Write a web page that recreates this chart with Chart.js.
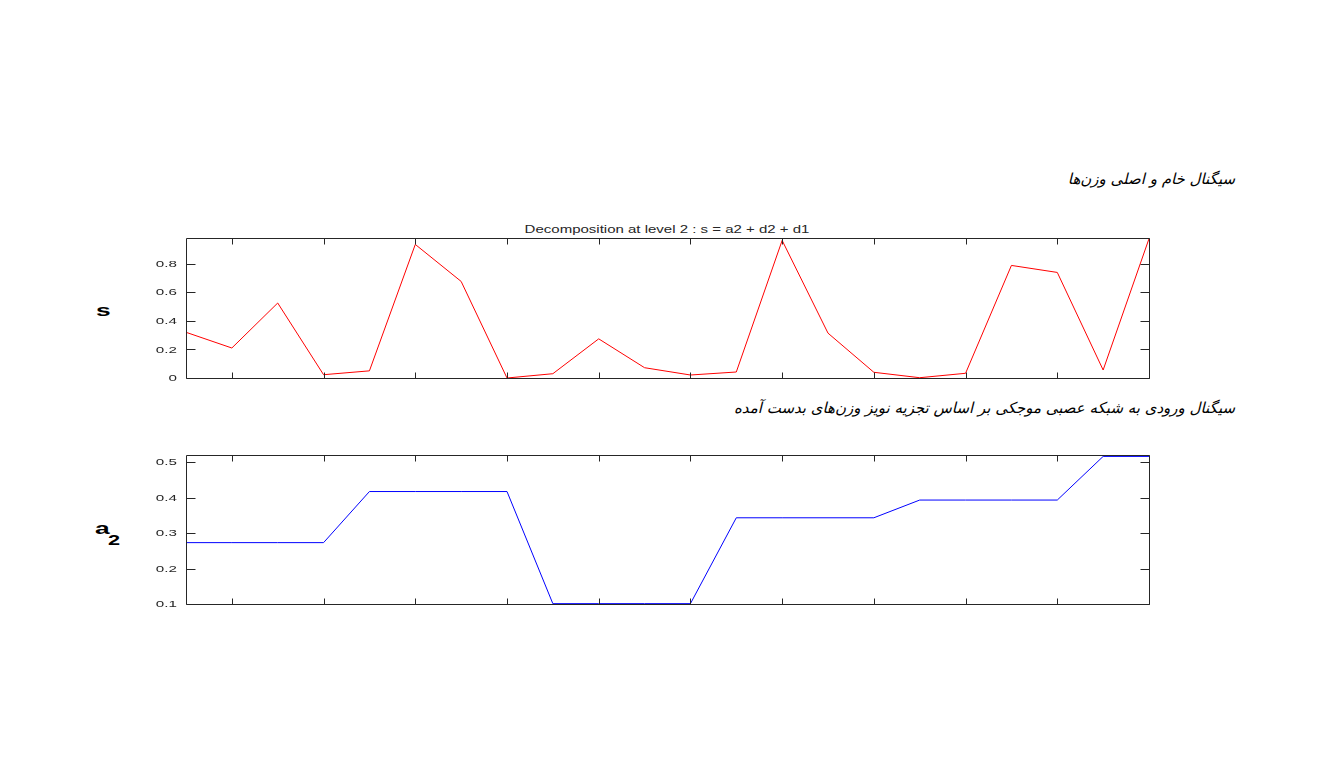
<!DOCTYPE html>
<html>
<head>
<meta charset="utf-8">
<script src="https://cdn.jsdelivr.net/npm/chart.js@4/dist/chart.umd.min.js"></script>
<style>
  html, body { margin: 0; padding: 0; background: #fff; }
  body { width: 1329px; height: 758px; position: relative; overflow: hidden; }
  canvas { position: absolute; left: 0; }
  .txt { position: absolute; white-space: nowrap; color: #000; line-height: normal; }
  .fa { font-family: "DejaVu Sans", sans-serif; font-style: italic; font-size: 15px; direction: rtl; text-align: right; }
  .lbl { font-family: "Liberation Sans", Arial, sans-serif; font-weight: bold; transform: scaleX(1.55); transform-origin: 0 0; }
  .ttl { font-family: "Liberation Sans", Arial, sans-serif; font-size: 10px; color: #262626; transform: translateX(-50%) scaleX(1.5); }
</style>
</head>
<body>
<div class="txt fa" style="right:94px; top:170px;">سیگنال خام و اصلی وزن‌ها</div>
<div class="txt fa" style="right:94px; top:399px;">سیگنال ورودی به شبکه عصبی موجکی بر اساس تجزیه نویز وزن‌های بدست آمده</div>
<div class="txt ttl" style="left:667px; top:224px;">Decomposition at level 2 : s = a2 + d2 + d1</div>
<div class="txt lbl" style="left:96px; top:301px; font-size:17px;">s</div>
<div class="txt lbl" style="left:95px; top:519px; font-size:17px;">a</div>
<div class="txt lbl" style="left:108px; top:532px; font-size:14px;">2</div>
<canvas id="c1" width="1329" height="200" style="top:200px;"></canvas>
<canvas id="c2" width="1329" height="180" style="top:440px;"></canvas>
<script>
// ---- data ----
const xIndex = [1,2,3,4,5,6,7,8,9,10,11,12,13,14,15,16,17,18,19,20,21,22];
const sValues = [0.32,0.21,0.525,0.023,0.05,0.935,0.676,0.0,0.03,0.274,0.072,0.021,0.042,0.963,0.314,0.04,0.002,0.033,0.788,0.739,0.056,0.975];
const a2Values = [0.273,0.273,0.273,0.273,0.417,0.417,0.417,0.417,0.101,0.101,0.101,0.101,0.343,0.343,0.343,0.343,0.393,0.393,0.393,0.393,0.516,0.516];
const xTicks = [2,4,6,8,10,12,14,16,18,20,22];
const sTicks = [0,0.2,0.4,0.6,0.8];
const sTickLabels = ['0','0.2','0.4','0.6','0.8'];
const a2Ticks = [0.1,0.2,0.3,0.4,0.5];
const a2TickLabels = ['0.1','0.2','0.3','0.4','0.5'];

const framePlugin = {
  id: 'frame',
  afterDraw(chart) {
    const ctx = chart.ctx, a = chart.chartArea;
    const xs = chart.scales.x, ys = chart.scales.y;
    const opt = chart.options.plugins.frame;
    ctx.save();
    ctx.lineWidth = 1;
    ctx.strokeStyle = '#262626';
    const L = Math.round(a.left) + 0.5, R = Math.round(a.right) + 0.5;
    const T = Math.round(a.top) + 0.5, B = Math.round(a.bottom) + 0.5;
    ctx.beginPath();
    ctx.rect(L, T, R - L, B - T);
    ctx.stroke();
    ctx.beginPath();
    opt.xt.forEach(v => {
      const px = Math.round(xs.getPixelForValue(v)) + 0.5;
      ctx.moveTo(px, B); ctx.lineTo(px, B - 6);
      ctx.moveTo(px, T); ctx.lineTo(px, T + 6);
    });
    opt.yt.forEach(v => {
      const py = Math.round(ys.getPixelForValue(v)) + 0.5;
      ctx.moveTo(L, py); ctx.lineTo(L + 9, py);
      ctx.moveTo(R, py); ctx.lineTo(R - 9, py);
    });
    ctx.stroke();
    // y tick labels (horizontally stretched like the reference)
    ctx.fillStyle = '#262626';
    ctx.font = '9.5px "Liberation Sans", Arial, sans-serif';
    ctx.textAlign = 'right';
    ctx.textBaseline = 'middle';
    opt.yt.forEach((v, i) => {
      const py = ys.getPixelForValue(v);
      ctx.save();
      ctx.translate(L - 9.5, py + 0.5);
      ctx.scale(1.6, 1);
      ctx.fillText(opt.yl[i], 0, 0);
      ctx.restore();
    });
    ctx.restore();
  }
};

function makeChart(id, values, color, yMin, yMax, yTicks, yLabels, pad) {
  return new Chart(document.getElementById(id), {
    type: 'line',
    data: {
      datasets: [{
        data: xIndex.map((x, i) => ({ x: x, y: values[i] })),
        borderColor: color,
        borderWidth: 1,
        pointRadius: 0,
        tension: 0,
        fill: false
      }]
    },
    options: {
      responsive: false,
      animation: false,
      devicePixelRatio: 1,
      layout: { padding: { left: 0, right: 180, top: pad[0], bottom: pad[1] } },
      plugins: {
        legend: { display: false },
        tooltip: { enabled: false },
        frame: { xt: xTicks, yt: yTicks, yl: yLabels }
      },
      scales: {
        x: {
          type: 'linear', min: 1, max: 22,
          grid: { display: false },
          border: { display: false },
          ticks: { display: false },
          afterFit: s => { s.height = 0; }
        },
        y: {
          min: yMin, max: yMax,
          grid: { display: false, drawTicks: false },
          border: { display: false },
          afterBuildTicks: s => { s.ticks = yTicks.map(v => ({ value: v })); },
          afterFit: s => { s.width = 186; },
          ticks: { display: false }
        }
      }
    },
    plugins: [framePlugin]
  });
}

makeChart('c1', sValues, '#ff0000', 0, 0.98, sTicks, sTickLabels, [38, 22]);
makeChart('c2', a2Values, '#0000ff', 0.1, 0.52, a2Ticks, a2TickLabels, [15, 16]);
</script>
</body>
</html>
